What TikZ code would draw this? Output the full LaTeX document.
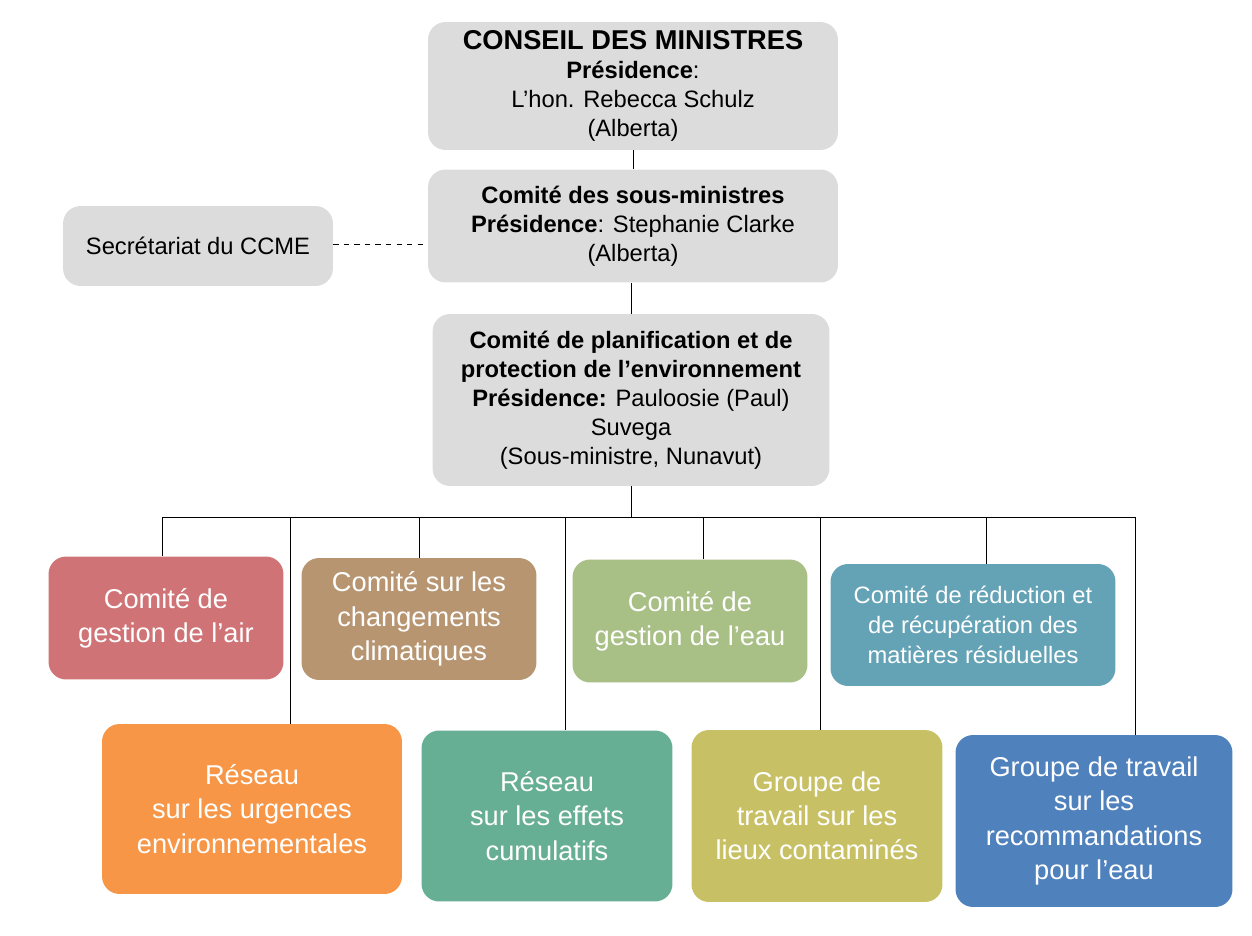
\documentclass[tikz,border=0pt]{standalone}
\usepackage{fontspec}
\setmainfont{Liberation Sans}
\usetikzlibrary{positioning}
\definecolor{grisbox}{HTML}{DCDCDC}
\definecolor{cair}{HTML}{D07376}
\definecolor{cclimat}{HTML}{B89571}
\definecolor{ceau}{HTML}{A8BF86}
\definecolor{cresidus}{HTML}{64A3B6}
\definecolor{curgence}{HTML}{F79646}
\definecolor{ceffets}{HTML}{66AE94}
\definecolor{clieux}{HTML}{C8C065}
\definecolor{creco}{HTML}{4F81BD}
\tikzset{
  greybox/.style = {fill = grisbox, rounded corners = 10pt, align = center,
    inner sep = 0pt, font = \fontsize{13.5}{16.5}\selectfont},
  colbox/.style = {fill = #1, rounded corners = 10pt, align = center,
    inner sep = 0pt, text = white, font = \fontsize{15.5}{19.5}\selectfont},
}
\begin{document}
\begin{tikzpicture}[x = .02cm, y = -.02cm]
\useasboundingbox (0,0) rectangle (1252,936);

\node[greybox, minimum width = 8.2cm, minimum height = 2.56cm] (conseil) at (633,86)
  {\textbf{\fontsize{15.5}{17}\selectfont CONSEIL DES MINISTRES}\\ \textbf{Présidence}:\\ L’hon. Rebecca Schulz\\ (Alberta)};
\node[greybox, minimum width = 8.2cm, minimum height = 2.26cm] (sousmin) at (633,226)
  {\textbf{Comité des sous-ministres}\\ \textbf{Présidence}: Stephanie Clarke\\ (Alberta)};
\node[greybox, minimum width = 5.4cm, minimum height = 1.6cm] (secretariat) at (198,246)
  {Secrétariat du CCME};
\node[greybox, minimum width = 7.94cm, minimum height = 3.44cm] (planif) at (631,400)
  {\textbf{Comité de planification et de}\\ \textbf{protection de l’environnement}\\ \textbf{Présidence:} Pauloosie (Paul)\\ Suvega\\ (Sous-ministre, Nunavut)};

% premiere rangee
\node[colbox = cair, minimum width = 4.7cm, minimum height = 2.46cm] (air) at (166,618)
  {Comité de\\ gestion de l’air};
\node[colbox = cclimat, minimum width = 4.7cm, minimum height = 2.44cm] (climat) at (419,619)
  {Comité sur les\\ changements\\ climatiques};
\node[colbox = ceau, minimum width = 4.7cm, minimum height = 2.46cm] (eau) at (690,621)
  {Comité de\\ gestion de l’eau};
\node[colbox = cresidus, minimum width = 5.7cm, minimum height = 2.44cm,
  font = \fontsize{13.5}{17}\selectfont] (residus) at (973,625)
  {Comité de réduction et\\ de récupération des\\ matières résiduelles};

% deuxieme rangee
\node[colbox = curgence, minimum width = 6cm, minimum height = 3.4cm] (urgences) at (252,809)
  {Réseau\\ sur les urgences\\ environnementales};
\node[colbox = ceffets, minimum width = 5.02cm, minimum height = 3.42cm] (effets) at (547,816)
  {Réseau\\ sur les effets\\ cumulatifs};
\node[colbox = clieux, minimum width = 5.02cm, minimum height = 3.44cm] (lieux) at (817,816)
  {Groupe de\\ travail sur les\\ lieux contaminés};
\node[colbox = creco, minimum width = 5.54cm, minimum height = 3.44cm] (reco) at (1094,821)
  {Groupe de travail\\ sur les\\ recommandations\\ pour l’eau};

% liens
\draw (conseil) -- (sousmin);
\draw (sousmin.south -| 631,0) -- (planif);
\draw[dashed] (secretariat.east |- 0,244) -- (sousmin.west |- 0,244);
\coordinate (bus) at (631,517);
\draw (planif) -- (bus);
\draw (162,517) -- (1135,517);
\foreach \n/\x in {air/162, climat/419, eau/703, residus/986,
                   urgences/290, effets/565, lieux/820, reco/1135}
  \draw (\x,517) -- (\n.north -| \x,0);
\end{tikzpicture}
\end{document}
